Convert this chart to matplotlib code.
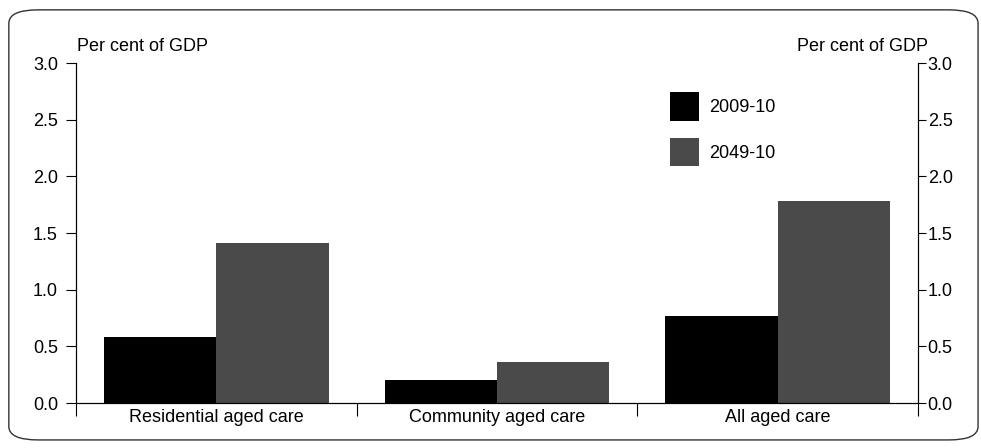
import matplotlib
matplotlib.use('Agg')
import matplotlib.pyplot as plt
import numpy as np
from matplotlib.patches import FancyBboxPatch

categories = ['Residential aged care', 'Community aged care', 'All aged care']
series_names = ['2009-10', '2049-10']
values_2009 = [0.58, 0.20, 0.77]
values_2049 = [1.41, 0.36, 1.78]
yticks = [0.0, 0.5, 1.0, 1.5, 2.0, 2.5, 3.0]

plt.rcParams['font.family'] = ['Liberation Sans', 'DejaVu Sans']
plt.rcParams['font.size'] = 13

fig = plt.figure(figsize=(9.81, 4.48), dpi=100)
ax = fig.add_axes([0.0775, 0.1004, 0.8583, 0.7586])

x = np.arange(len(categories))
w = 0.4
ax.bar(x - w / 2, values_2009, w, color='#000000', label=series_names[0])
ax.bar(x + w / 2, values_2049, w, color='#4a4a4a', label=series_names[1])

ax.set_xlim(-0.5, 2.5)
ax.set_ylim(0, 3.0)
ax.set_yticks(yticks)
ax.set_yticklabels(['%.1f' % v for v in yticks])
ax.tick_params(axis='y', direction='out', length=7, width=0.8, pad=6,
               labelsize=13)
ax2 = ax.twinx()
ax2.set_ylim(0, 3.0)
ax2.set_yticks(yticks)
ax2.set_yticklabels(['%.1f' % v for v in yticks])
ax2.tick_params(axis='y', direction='out', length=6, width=0.8, pad=1,
                labelsize=13)
ax2.spines['top'].set_visible(False)
ax2.spines['right'].set_linewidth(0.8)

# category labels sit between boundary ticks
ax.set_xticks([-0.5, 0.5, 1.5, 2.5])
ax.set_xticklabels([])
ax.set_xticks(x, minor=True)
ax.set_xticklabels(categories, minor=True)
ax.tick_params(axis='x', which='major', direction='out', length=9, width=0.8)
ax.tick_params(axis='x', which='minor', length=0, pad=4, labelsize=13)

ax.spines['top'].set_visible(False)
for s in ['left', 'right', 'bottom']:
    ax.spines[s].set_linewidth(0.8)

fig.text(0.079, 0.897, 'Per cent of GDP', fontsize=13, ha='left', va='center')
fig.text(0.946, 0.897, 'Per cent of GDP', fontsize=13, ha='right', va='center')

# square legend keys, like the original
ax.legend(loc='upper left', bbox_to_anchor=(0.688, 0.958), frameon=False,
          handlelength=1.6, handleheight=2.08, handletextpad=0.6,
          labelspacing=0.93, fontsize=13, borderpad=0.3)

frame = FancyBboxPatch((0.009, 0.018), 0.988, 0.96, transform=fig.transFigure,
                       boxstyle='round,pad=0,rounding_size=0.03',
                       fill=False, edgecolor='#333333', linewidth=1.0)
fig.patches.append(frame)

fig.savefig('out.png', dpi=100)
